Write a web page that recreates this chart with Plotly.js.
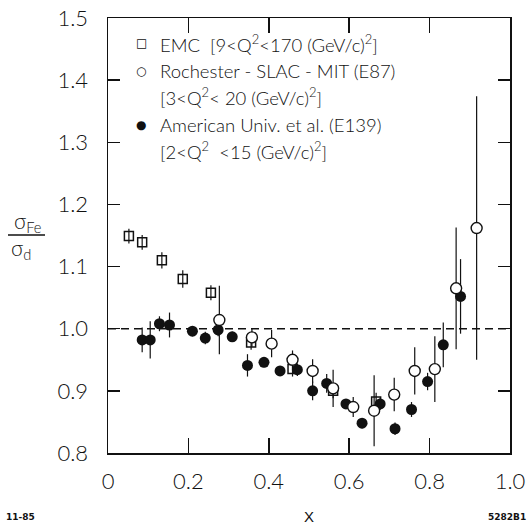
<!DOCTYPE html>
<html><head><meta charset="utf-8">
<script src="https://cdn.plot.ly/plotly-3.0.1.min.js"></script>
<style>html,body{margin:0;padding:0;background:#fff}#chart{width:528px;height:525px}</style>
</head><body><div id="chart"></div>
<script>
// EMC [9<Q2<170 (GeV/c)^2]
const emcX   = [0.052, 0.085, 0.134, 0.186, 0.256, 0.356, 0.459, 0.560, 0.667];
const emcY   = [1.149, 1.139, 1.110, 1.080, 1.058, 0.978, 0.935, 0.900, 0.883];
const emcErr = [0.012, 0.012, 0.013, 0.014, 0.012, 0.012, 0.012, 0.012, 0.014];

// Rochester-SLAC-MIT (E87)
const e87X   = [0.277, 0.358, 0.407, 0.459, 0.509, 0.560, 0.610, 0.662, 0.712, 0.763, 0.813, 0.866, 0.917];
const e87Y   = [1.014, 0.986, 0.976, 0.950, 0.932, 0.904, 0.874, 0.868, 0.894, 0.932, 0.935, 1.065, 1.162];
const e87Err = [0.055, 0.015, 0.022, 0.015, 0.019, 0.030, 0.016, 0.057, 0.027, 0.038, 0.053, 0.098, 0.212];

// American Univ. et al. (E139)
const e139X   = [0.085, 0.105, 0.128, 0.153, 0.210, 0.242, 0.274, 0.309, 0.347, 0.388, 0.428, 0.471, 0.509, 0.544, 0.592, 0.632, 0.677, 0.714, 0.755, 0.795, 0.834, 0.877];
const e139Y   = [0.982, 0.982, 1.008, 1.006, 0.996, 0.985, 0.998, 0.987, 0.941, 0.946, 0.932, 0.934, 0.900, 0.912, 0.879, 0.848, 0.879, 0.839, 0.870, 0.915, 0.974, 1.052];
const e139Err = [0.020, 0.030, 0.012, 0.020, 0.008, 0.010, 0.010, 0.008, 0.018, 0.008, 0.008, 0.010, 0.015, 0.015, 0.008, 0.008, 0.010, 0.010, 0.012, 0.014, 0.036, 0.060];

const xTickVals = [0, 0.2, 0.4, 0.6, 0.8, 1.0];
const xTickText = ['0', '0.2', '0.4', '0.6', '0.8', '1.0'];
const yTickVals = [0.8, 0.9, 1.0, 1.1, 1.2, 1.3, 1.4, 1.5];
const yTickText = ['0.8', '0.9', '1.0', '1.1', '1.2', '1.3', '1.4', '1.5'];
const refLine = 1.0;

const legendLines = [
  {sym: '\u25A1', text: 'EMC  [9<Q<sup>2</sup><170 (GeV/c)<sup>2</sup>]'},
  {sym: '\u25CB', text: 'Rochester - SLAC - MIT (E87)'},
  {sym: '',       text: '[3<Q<sup>2</sup>< 20 (GeV/c)<sup>2</sup>]'},
  {sym: '\u25CF', text: 'American Univ. et al. (E139)'},
  {sym: '',       text: '[2<Q<sup>2</sup>  <15 (GeV/c)<sup>2</sup>]'}
];

const FONT = 'Lato, "Open Sans", "DejaVu Sans", sans-serif';
const INK = '#111';

// plot area in px: left 108, right 510, top 18, bottom 453
const W = 528, H = 525, L = 108, R = 18, T = 18, B = 72;
const pw = W - L - R, ph = H - T - B;
const pxX = p => (p - L) / pw;
const pxY = p => (H - B - p) / ph;

function errOpts(arr) {
  return {type: 'data', array: arr, visible: true, color: INK, thickness: 1.2, width: 0};
}

const traces = [
  {x: emcX, y: emcY, error_y: errOpts(emcErr), mode: 'markers', type: 'scatter', name: 'EMC',
   marker: {symbol: 'square-open', size: 9, color: INK, line: {width: 1.5, color: INK}}},
  {x: e139X, y: e139Y, error_y: errOpts(e139Err), mode: 'markers', type: 'scatter', name: 'E139',
   marker: {symbol: 'circle', size: 11, color: INK, line: {width: 0}}},
  {x: e87X, y: e87Y, error_y: errOpts(e87Err), mode: 'markers', type: 'scatter', name: 'E87',
   marker: {symbol: 'circle', size: 11, color: '#fff', line: {width: 1.4, color: INK}}}
];

const legY = [43, 71, 97, 125, 150];
const annotations = [];
legendLines.forEach((l, i) => {
  if (l.sym) annotations.push({xref: 'paper', yref: 'paper', x: pxX(141), y: pxY(legY[i]), text: l.sym,
    showarrow: false, xanchor: 'center', yanchor: 'middle', font: {family: '"DejaVu Sans"', size: 12, color: INK}});
  annotations.push({xref: 'paper', yref: 'paper', x: pxX(158), y: pxY(legY[i]), text: l.text,
    showarrow: false, xanchor: 'left', yanchor: 'middle', font: {family: FONT, size: 18.5, color: INK, weight: 300}});
});
annotations.push({xref: 'paper', yref: 'paper', x: pxX(27), y: pxY(222), text: '\u03C3<sub>Fe</sub>', showarrow: false,
  xanchor: 'center', yanchor: 'middle', font: {family: FONT, size: 21, color: INK, weight: 300}});
annotations.push({xref: 'paper', yref: 'paper', x: pxX(21), y: pxY(249), text: '\u03C3<sub>d</sub>', showarrow: false,
  xanchor: 'center', yanchor: 'middle', font: {family: FONT, size: 21, color: INK, weight: 300}});
annotations.push({xref: 'paper', yref: 'paper', x: pxX(4), y: pxY(517), text: '<b>11-85</b>', showarrow: false,
  xanchor: 'left', yanchor: 'middle', font: {family: '"DejaVu Sans"', size: 9, color: INK}});
annotations.push({xref: 'paper', yref: 'paper', x: pxX(528), y: pxY(517), text: '<b>5282B1</b>', showarrow: false,
  xanchor: 'right', yanchor: 'middle', font: {family: '"DejaVu Sans"', size: 9, color: INK}});

const shapes = [
  {type: 'line', xref: 'paper', yref: 'y', x0: 0, x1: 1, y0: refLine, y1: refLine,
   line: {color: INK, width: 1.4, dash: '8px,5px'}},
  {type: 'line', xref: 'paper', yref: 'paper', x0: pxX(8), x1: pxX(45), y0: pxY(235), y1: pxY(235),
   line: {color: INK, width: 1.3}}
];

const axisBase = {showgrid: false, zeroline: false, showline: true, mirror: 'ticks', linecolor: INK, linewidth: 1.5,
  ticks: 'inside', tickcolor: INK, tickwidth: 1.5, tickfont: {family: FONT, size: 22, color: INK, weight: 300}};

const layout = {
  width: W, height: H, margin: {l: L, r: R, t: T, b: B},
  paper_bgcolor: '#fff', plot_bgcolor: '#fff', showlegend: false,
  xaxis: Object.assign({}, axisBase, {range: [0, 1], tickmode: 'array', tickvals: xTickVals, ticktext: xTickText,
    ticklen: 15, ticklabelstandoff: 8,
    title: {text: 'X', font: {family: '"Liberation Sans", sans-serif', size: 15, color: INK}, standoff: 19}}),
  yaxis: Object.assign({}, axisBase, {range: [0.8, 1.5], tickmode: 'array', tickvals: yTickVals, ticktext: yTickText,
    ticklen: 12, ticklabelstandoff: 14}),
  annotations: annotations, shapes: shapes
};

Plotly.newPlot('chart', traces, layout, {displayModeBar: false, staticPlot: true});
</script>
</body></html>
